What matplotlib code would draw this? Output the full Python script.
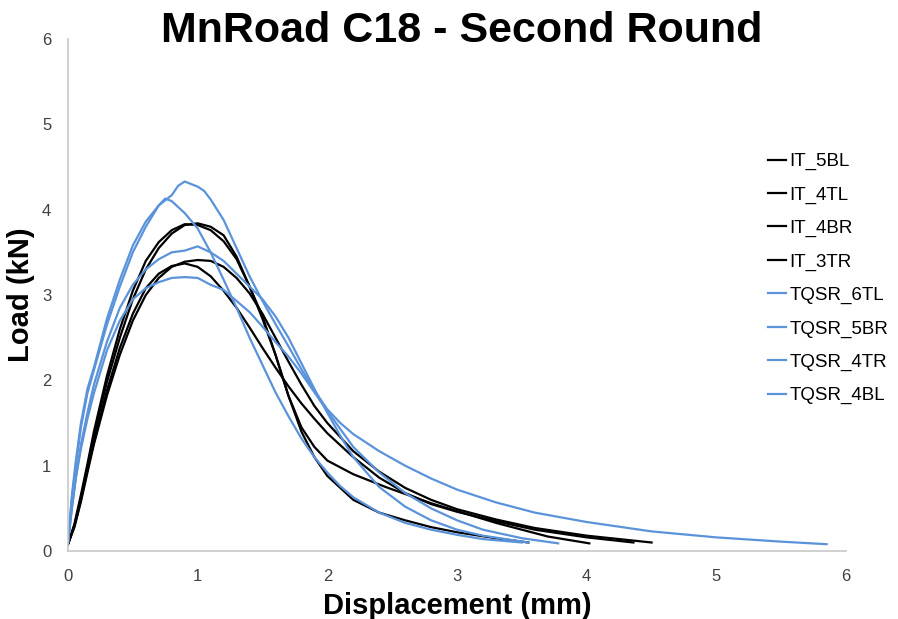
import matplotlib.pyplot as plt

plt.rcParams['font.family'] = ['Liberation Sans', 'DejaVu Sans']

# IT specimens (black)
it_5bl_x = [0, 0.05, 0.1, 0.15, 0.2, 0.3, 0.4, 0.5, 0.6, 0.7, 0.8, 0.9, 1.0, 1.1, 1.2, 1.3, 1.4, 1.5, 1.6, 1.7, 1.8, 1.9, 2.0, 2.2, 2.45, 2.8, 3.3, 3.7, 4.02]
it_5bl_y = [0.08, 0.3, 0.62, 0.98, 1.35, 1.98, 2.5, 2.95, 3.3, 3.55, 3.72, 3.82, 3.84, 3.8, 3.7, 3.45, 3.1, 2.72, 2.3, 1.82, 1.45, 1.22, 1.06, 0.9, 0.75, 0.56, 0.33, 0.17, 0.09]

it_4tl_x = [0, 0.05, 0.1, 0.15, 0.2, 0.3, 0.4, 0.5, 0.6, 0.7, 0.8, 0.9, 1.0, 1.1, 1.2, 1.3, 1.4, 1.5, 1.6, 1.7, 1.8, 1.9, 2.0, 2.2, 2.4, 2.6, 2.8, 3.0, 3.3, 3.55]
it_4tl_y = [0.08, 0.32, 0.66, 1.02, 1.4, 2.05, 2.6, 3.05, 3.4, 3.62, 3.76, 3.83, 3.82, 3.76, 3.63, 3.42, 3.1, 2.75, 2.3, 1.82, 1.4, 1.1, 0.88, 0.6, 0.45, 0.36, 0.28, 0.22, 0.15, 0.1]

it_4br_x = [0, 0.05, 0.1, 0.15, 0.2, 0.3, 0.4, 0.5, 0.6, 0.7, 0.8, 0.9, 1.0, 1.1, 1.2, 1.3, 1.4, 1.5, 1.6, 1.7, 1.8, 1.9, 2.0, 2.2, 2.4, 2.6, 2.8, 3.0, 3.3, 3.6, 4.0, 4.5]
it_4br_y = [0.08, 0.28, 0.58, 0.92, 1.25, 1.82, 2.3, 2.7, 3.0, 3.2, 3.33, 3.39, 3.41, 3.4, 3.33, 3.2, 3.02, 2.78, 2.5, 2.22, 1.95, 1.7, 1.5, 1.17, 0.93, 0.74, 0.6, 0.49, 0.37, 0.27, 0.18, 0.1]

it_3tr_x = [0, 0.05, 0.1, 0.15, 0.2, 0.3, 0.4, 0.5, 0.6, 0.7, 0.8, 0.9, 1.0, 1.1, 1.2, 1.3, 1.4, 1.5, 1.6, 1.7, 1.8, 1.9, 2.0, 2.2, 2.4, 2.6, 2.8, 3.0, 3.3, 3.6, 4.0, 4.36]
it_3tr_y = [0.08, 0.3, 0.6, 0.95, 1.28, 1.88, 2.38, 2.78, 3.08, 3.25, 3.34, 3.37, 3.33, 3.22, 3.05, 2.85, 2.62, 2.38, 2.15, 1.93, 1.73, 1.55, 1.38, 1.1, 0.86, 0.68, 0.55, 0.46, 0.35, 0.25, 0.16, 0.1]

# TQSR specimens (blue)
tq_6tl_x = [0, 0.03, 0.06, 0.1, 0.15, 0.2, 0.3, 0.4, 0.5, 0.6, 0.7, 0.8, 0.85, 0.9, 0.95, 1.0, 1.05, 1.1, 1.2, 1.3, 1.4, 1.5, 1.6, 1.7, 1.8, 1.9, 2.0, 2.1, 2.2, 2.4, 2.6, 2.8, 3.0, 3.3, 3.6, 4.0, 4.5, 5.0, 5.5, 5.85]
tq_6tl_y = [0.1, 0.6, 1.0, 1.45, 1.85, 2.12, 2.65, 3.1, 3.5, 3.8, 4.05, 4.17, 4.28, 4.33, 4.3, 4.27, 4.22, 4.12, 3.88, 3.55, 3.22, 2.93, 2.66, 2.4, 2.13, 1.88, 1.66, 1.5, 1.37, 1.17, 1.0, 0.85, 0.72, 0.57, 0.45, 0.34, 0.23, 0.16, 0.11, 0.08]

tq_5br_x = [0, 0.03, 0.06, 0.1, 0.15, 0.2, 0.3, 0.4, 0.5, 0.6, 0.7, 0.75, 0.8, 0.9, 1.0, 1.1, 1.2, 1.3, 1.4, 1.5, 1.6, 1.7, 1.8, 1.9, 2.0, 2.1, 2.2, 2.4, 2.6, 2.8, 3.0, 3.2, 3.5]
tq_5br_y = [0.1, 0.65, 1.05, 1.5, 1.9, 2.15, 2.72, 3.18, 3.58, 3.86, 4.05, 4.13, 4.1, 3.96, 3.78, 3.5, 3.18, 2.85, 2.5, 2.18, 1.86, 1.58, 1.32, 1.1, 0.92, 0.76, 0.63, 0.45, 0.33, 0.25, 0.19, 0.14, 0.1]

tq_4tr_x = [0, 0.03, 0.06, 0.1, 0.15, 0.2, 0.3, 0.4, 0.5, 0.6, 0.7, 0.8, 0.9, 1.0, 1.1, 1.2, 1.3, 1.4, 1.5, 1.6, 1.7, 1.8, 1.9, 2.0, 2.1, 2.2, 2.4, 2.6, 2.8, 3.0, 3.2, 3.55]
tq_4tr_y = [0.1, 0.5, 0.85, 1.25, 1.62, 1.95, 2.45, 2.85, 3.12, 3.3, 3.42, 3.5, 3.52, 3.57, 3.5, 3.4, 3.25, 3.1, 2.95, 2.75, 2.5, 2.2, 1.9, 1.62, 1.35, 1.1, 0.75, 0.52, 0.36, 0.25, 0.18, 0.1]

tq_4bl_x = [0, 0.03, 0.06, 0.1, 0.15, 0.2, 0.3, 0.4, 0.5, 0.6, 0.7, 0.8, 0.9, 1.0, 1.1, 1.2, 1.3, 1.4, 1.5, 1.6, 1.7, 1.8, 1.9, 2.0, 2.2, 2.4, 2.6, 2.8, 3.0, 3.2, 3.5, 3.78]
tq_4bl_y = [0.1, 0.5, 0.85, 1.2, 1.55, 1.85, 2.35, 2.7, 2.95, 3.08, 3.15, 3.2, 3.21, 3.2, 3.12, 3.06, 2.93, 2.8, 2.63, 2.45, 2.28, 2.08, 1.86, 1.64, 1.22, 0.92, 0.68, 0.5, 0.36, 0.25, 0.15, 0.09]

black = '#000000'
blue = '#5B93DB'

fig = plt.figure(figsize=(8.98, 6.19), dpi=100)
ax = fig.add_axes([0.0757, 0.1098, 0.8665, 0.8272])

ax.plot(it_5bl_x, it_5bl_y, color=black, lw=1.6, label='IT_5BL')
ax.plot(it_4tl_x, it_4tl_y, color=black, lw=1.6, label='IT_4TL')
ax.plot(it_4br_x, it_4br_y, color=black, lw=1.6, label='IT_4BR')
ax.plot(it_3tr_x, it_3tr_y, color=black, lw=1.6, label='IT_3TR')
ax.plot(tq_6tl_x, tq_6tl_y, color=blue, lw=1.6, label='TQSR_6TL')
ax.plot(tq_5br_x, tq_5br_y, color=blue, lw=1.6, label='TQSR_5BR')
ax.plot(tq_4tr_x, tq_4tr_y, color=blue, lw=1.6, label='TQSR_4TR')
ax.plot(tq_4bl_x, tq_4bl_y, color=blue, lw=1.6, label='TQSR_4BL')

ax.set_xlim(0, 6)
ax.set_ylim(0, 6)
ax.set_xticks(range(7))
ax.set_yticks(range(7))
ax.tick_params(length=0, labelsize=12, labelcolor='#404040')
ax.tick_params(axis='x', pad=13)
ax.tick_params(axis='y', pad=12)

ax.spines['top'].set_visible(False)
ax.spines['right'].set_visible(False)
ax.spines['left'].set_color('#C8C8C8')
ax.spines['bottom'].set_color('#C8C8C8')
ax.spines['left'].set_linewidth(1.2)
ax.spines['bottom'].set_linewidth(1.2)

ax.set_xlabel('Displacement (mm)', fontsize=21, fontweight='bold', labelpad=6)
ax.set_ylabel('Load (kN)', fontsize=21, fontweight='bold', labelpad=5)
fig.suptitle('MnRoad C18 - Second Round', fontsize=31, fontweight='bold', x=0.514, y=0.982)

fig.legend(loc='upper left', bbox_to_anchor=(0.836, 0.78), frameon=False,
           fontsize=13.5, handlelength=1.0, handletextpad=0.15, labelspacing=0.86)

fig.savefig('out.png', dpi=100)
